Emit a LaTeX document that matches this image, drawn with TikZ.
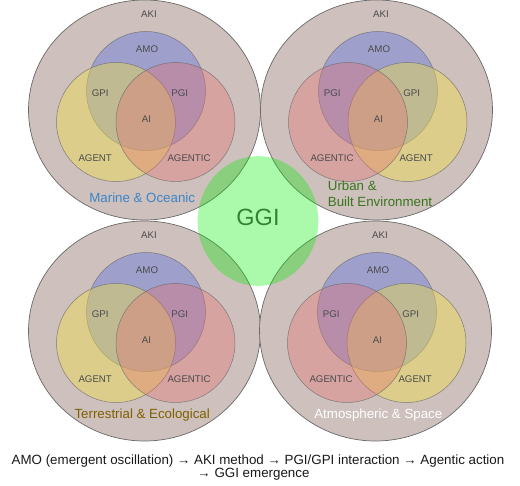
\documentclass[tikz,border=0pt]{standalone}
\usepackage{fontspec}
\setmainfont{Liberation Sans}
\definecolor{bigfill}{RGB}{206,192,189}
\definecolor{edgegray}{RGB}{105,105,105}
\definecolor{amoblue}{RGB}{70,100,230}
\definecolor{agyellow}{RGB}{240,225,70}
\definecolor{agred}{RGB}{230,110,110}
\definecolor{ggigreen}{RGB}{0,240,0}
\definecolor{ggitext}{RGB}{50,130,50}
\definecolor{labgray}{RGB}{75,75,75}
\definecolor{marineblue}{RGB}{61,133,198}
\definecolor{urbangreen}{RGB}{56,118,29}
\definecolor{terrbrown}{RGB}{127,96,0}
\tikzset{
  bigc/.style={fill=bigfill, draw=edgegray, line width=0.7pt},
  vblue/.style={fill=amoblue, fill opacity=0.35, draw=edgegray, draw opacity=0.8, line width=0.5pt},
  vyellow/.style={fill=agyellow, fill opacity=0.42, draw=edgegray, draw opacity=0.8, line width=0.5pt},
  vred/.style={fill=agred, fill opacity=0.35, draw=edgegray, draw opacity=0.8, line width=0.5pt},
  lab/.style={font=\fontsize{9.7}{11}\selectfont, text=labgray, inner sep=0pt, anchor=base},
  labw/.style={lab, anchor=base west},
  region/.style={font=\fontsize{13.3}{15.7}\selectfont, inner sep=0pt, anchor=base},
  caption/.style={font=\fontsize{13.35}{13}\selectfont, text=black!90, inner sep=0pt, anchor=base}
}
\newcommand\vennpanel[8]{%
  \begin{scope}[shift={#1}]
    \draw[bigc] (144.5,110) ellipse [x radius=116, y radius=110];
    \draw[vblue] (146,91) circle [radius=59.5];
    \draw[vyellow] (#3,122) circle [radius=59.5];
    \draw[vred] (#4,122) circle [radius=59.5];
    \node[lab] (#2-aki) at (149,17.3) {AKI};
    \node[lab] (#2-amo) at (147,52.3) {AMO};
    \node[labw] (#2-lt) at (91.6,96.5) {#5};
    \node[labw] (#2-rt) at (171.1,96.5) {#6};
    \node[lab] (#2-ai) at (146.5,122.5) {AI};
    \node[labw] (#2-lb) at (78.3,161.5) {#7};
    \node[labw] (#2-rb) at (167.3,161.5) {#8};
  \end{scope}}
\begin{document}
\begin{tikzpicture}[x=1pt,y=-1pt]
  \fill[white] (0,0) rectangle (520,486);
  \useasboundingbox (0,0) rectangle (520,486);
  \vennpanel{(0,0)}{tl}{116}{175.5}{GPI}{PGI}{AGENT}{AGENTIC}
  \vennpanel{(232,0)}{tr}{175.5}{116}{PGI}{GPI}{AGENTIC}{AGENT}
  \vennpanel{(0,221)}{bl}{116}{175.5}{GPI}{PGI}{AGENT}{AGENTIC}
  \vennpanel{(231,221)}{br}{175.5}{116}{PGI}{GPI}{AGENTIC}{AGENT}
  \fill[ggigreen, fill opacity=0.33] (258,221) ellipse [x radius=60.3, y radius=64.8];
  \node[font=\fontsize{23.5}{24}\selectfont, text=ggitext, inner sep=0pt, anchor=base] (ggi) at (258,225.7) {GGI};
  \node[region, text=marineblue] (marine) at (142.2,202.7) {Marine \& Oceanic};
  \node[region, text=urbangreen, anchor=base west] (urbanA) at (327.7,191) {Urban \&};
  \node[region, text=urbangreen, anchor=base west] (urbanB) at (327.7,206.7) {Built Environment};
  \node[region, text=terrbrown] (terr) at (142.2,419) {Terrestrial \& Ecological};
  \node[region, text=white] (atmo) at (378.3,419) {Atmospheric \& Space};
  \node[caption] (capA) at (258,465) {AMO (emergent oscillation) → AKI method → PGI/GPI interaction → Agentic action};
  \node[caption] (capB) at (253.5,477.7) {→ GGI emergence};
\end{tikzpicture}
\end{document}
